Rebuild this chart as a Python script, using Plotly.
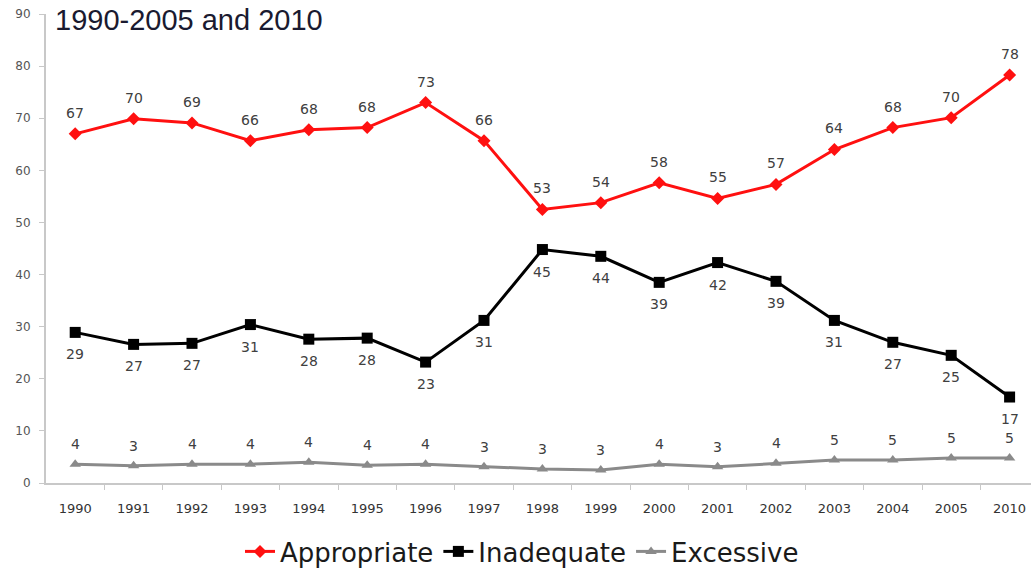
import plotly.graph_objects as go

years = ["1990", "1991", "1992", "1993", "1994", "1995", "1996", "1997", "1998",
         "1999", "2000", "2001", "2002", "2003", "2004", "2005", "2010"]

appropriate = [67.0, 69.9, 69.1, 65.7, 67.8, 68.2, 73.0, 65.7, 52.5,
               53.8, 57.6, 54.6, 57.3, 64.0, 68.2, 70.1, 78.3]
appropriate_labels = [67, 70, 69, 66, 68, 68, 73, 66, 53, 54, 58, 55, 57, 64, 68, 70, 78]

inadequate = [28.9, 26.6, 26.8, 30.4, 27.6, 27.8, 23.2, 31.2, 44.8,
              43.5, 38.5, 42.3, 38.7, 31.2, 27.0, 24.5, 16.5]
inadequate_labels = [29, 27, 27, 31, 28, 28, 23, 31, 45, 44, 39, 42, 39, 31, 27, 25, 17]

excessive = [3.6, 3.3, 3.6, 3.6, 4.0, 3.4, 3.6, 3.1, 2.7,
             2.5, 3.6, 3.1, 3.8, 4.4, 4.4, 4.8, 4.8]
excessive_labels = [4, 3, 4, 4, 4, 4, 4, 3, 3, 3, 4, 3, 4, 5, 5, 5, 5]

x = list(range(len(years)))
label_font = dict(family="DejaVu Sans, sans-serif", size=14, color="#404040")

fig = go.Figure()
fig.add_trace(go.Scatter(
    x=x, y=appropriate, name="Appropriate", mode="lines+markers",
    line=dict(color="#ff1010", width=3),
    marker=dict(symbol="diamond", size=10, color="#ff1010"),
))
fig.add_trace(go.Scatter(
    x=x, y=inadequate, name="Inadequate", mode="lines+markers",
    line=dict(color="#000000", width=3),
    marker=dict(symbol="square", size=11, color="#000000"),
))
fig.add_trace(go.Scatter(
    x=x, y=excessive, name="Excessive", mode="lines+markers",
    line=dict(color="#8a8a8a", width=3),
    marker=dict(symbol="triangle-up", size=10, color="#8a8a8a"),
))

annotations = []
for vals, labs, shift in [(appropriate, appropriate_labels, 21),
                          (inadequate, inadequate_labels, -22),
                          (excessive, excessive_labels, 20)]:
    for xi, v, lab in zip(x, vals, labs):
        annotations.append(dict(x=xi, y=v, xref="x", yref="y", text=str(lab),
                                showarrow=False, yshift=shift, font=label_font))

W, H = 1031, 575
L, R, T, B = 46, 0, 14, 91

fig.update_layout(
    width=W, height=H,
    margin=dict(l=L, r=R, t=T, b=B),
    paper_bgcolor="white", plot_bgcolor="white",
    font=dict(family="Liberation Sans, Arial, sans-serif"),
    annotations=annotations,
    title=dict(text="1990-2005 and 2010", x=55 / W, xanchor="left",
               y=1 - 20 / H, yanchor="middle",
               font=dict(size=29, color="#1a1a30")),
    showlegend=True,
    legend=dict(orientation="h", x=(522 - L) / (W - L - R), xanchor="center",
                y=-(553 - 484) / (H - T - B), yanchor="middle",
                font=dict(family="DejaVu Sans, sans-serif", size=26, color="#1a1a1a"),
                itemwidth=30, tracegroupgap=0,
                bgcolor="rgba(0,0,0,0)"),
    xaxis=dict(
        range=[-0.5, -0.5 + (W - L) / 58.4], tickmode="array", tickvals=x,
        ticktext=years, showgrid=False, zeroline=False,
        showline=True, linecolor="#c8c8c8", linewidth=2,
        ticks="", ticklabelstandoff=12,
        tickfont=dict(family="DejaVu Sans, sans-serif", size=13, color="#333333"),
        fixedrange=True,
    ),
    yaxis=dict(
        range=[0, 90], tickmode="array", tickvals=list(range(0, 91, 10)),
        showgrid=False, zeroline=False, showline=True, linecolor="#c8c8c8",
        linewidth=2, ticks="outside", ticklen=5, tickcolor="#c8c8c8",
        ticklabelstandoff=6,
        tickfont=dict(family="DejaVu Sans, sans-serif", size=12, color="#555555"),
    ),
)

# tick marks between categories on the x axis
fig.update_xaxes(minor=dict(tickmode="array", tickvals=[i + 0.5 for i in x[:-1]],
                            ticks="outside", ticklen=5, tickcolor="#c8c8c8"))

fig.write_html("out.html")
